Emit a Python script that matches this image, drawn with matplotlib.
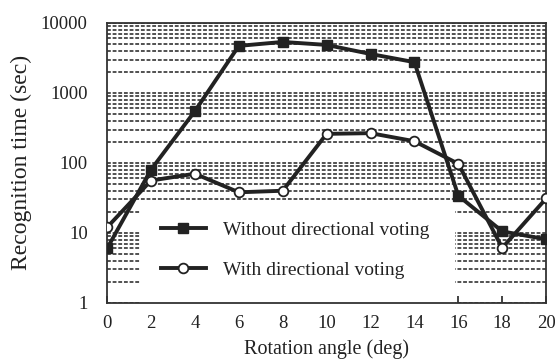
import matplotlib
matplotlib.use("Agg")
from matplotlib import pyplot as plt
from matplotlib.patches import Rectangle
from matplotlib.ticker import LogLocator, FixedLocator, FixedFormatter, NullFormatter

# rotation angles and recognition times
angles = [0, 2, 4, 6, 8, 10, 12, 14, 16, 18, 20]
without_voting = [6, 80, 550, 4700, 5350, 4850, 3600, 2750, 34, 10.5, 8.1]
with_voting = [12, 56, 70, 38, 40, 260, 266, 204, 97, 6.1, 31]
y_ticks = [1, 10, 100, 1000, 10000]
y_tick_labels = ['1', '10', '100', '1000', '10000']

plt.rcParams['font.family'] = ['Liberation Serif', 'DejaVu Serif']

fig = plt.figure(figsize=(5.55, 3.64), dpi=100)
ax = fig.add_axes([0.193, 0.168, 0.791, 0.769])

ax.set_yscale('log')
ax.set_xlim(0, 20)
ax.set_ylim(1, 10000)

ax.yaxis.set_major_locator(FixedLocator(y_ticks))
ax.yaxis.set_major_formatter(FixedFormatter(y_tick_labels))
ax.yaxis.set_minor_locator(LogLocator(base=10, subs=range(2, 10)))
ax.yaxis.set_minor_formatter(NullFormatter())
ax.set_xticks(angles)

ax.grid(axis='y', which='both', color='#222222', linestyle=(0, (2.5, 1.2)), linewidth=1.1, zorder=0)
ax.set_axisbelow(True)

ax.tick_params(axis='x', direction='in', length=5, width=1.2, labelsize=13.5, pad=9, colors='#222222')
ax.tick_params(axis='y', which='both', length=0, labelsize=13.5, pad=14, colors='#222222')
for s in ax.spines.values():
    s.set_linewidth(1.3)
    s.set_color('#333333')

# blank area behind the legend
ax.add_patch(Rectangle((1.5, 1), 14.35, 24, facecolor='white', edgecolor='none', zorder=1))

ax.plot(angles, without_voting, color='#222222', lw=2.8, marker='s', ms=7,
        mfc='#222222', label='Without directional voting', zorder=3)
ax.plot(angles, with_voting, color='#222222', lw=2.8, marker='o', ms=7,
        mfc='white', mew=1.3, label='With directional voting', zorder=3)

leg = ax.legend(loc='upper left', bbox_to_anchor=(0.083, 0.355), frameon=False, fontsize=14,
                handlelength=2.3, labelspacing=1.15, handletextpad=0.9)
for t in leg.get_texts():
    t.set_color('#222222')

ax.set_xlabel('Rotation angle (deg)', fontsize=14.5, labelpad=5, color='#222222')
ax.set_ylabel('Recognition time (sec)', fontsize=17, labelpad=6, color='#222222')

plt.savefig('out.png', dpi=100)
